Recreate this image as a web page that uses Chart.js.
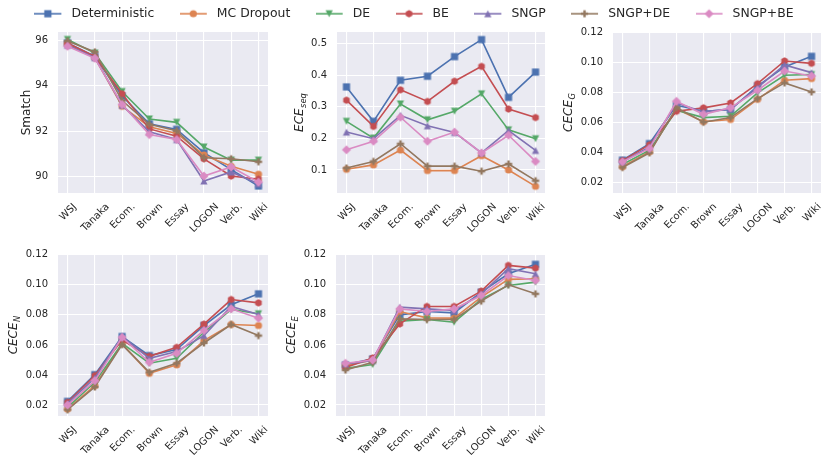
<!DOCTYPE html>
<html>
<head>
<meta charset="utf-8">
<script src="https://cdn.jsdelivr.net/npm/chart.js@4.4.1/dist/chart.umd.min.js"></script>
<style>
  html, body { margin: 0; padding: 0; background: #ffffff; }
  #wrap { position: relative; width: 825px; height: 459px; overflow: hidden; }
  #wrap canvas { position: absolute; }
</style>
</head>
<body>
<div id="wrap">
  <canvas id="legend" width="900" height="140" style="left:-36px;top:-18px"></canvas>
  <canvas id="pSmatch" width="275" height="215" style="left:0px;top:25px"></canvas>
  <canvas id="pEce" width="275" height="215" style="left:280px;top:25px"></canvas>
  <canvas id="pCeceG" width="270" height="215" style="left:555px;top:25px"></canvas>
  <canvas id="pCeceN" width="275" height="219" style="left:0px;top:240px"></canvas>
  <canvas id="pCeceE" width="275" height="219" style="left:280px;top:240px"></canvas>
</div>
<script>
// ---- data -------------------------------------------------------------
const categories = ['WSJ', 'Tanaka', 'Ecom.', 'Brown', 'Essay', 'LOGON', 'Verb.', 'Wiki'];
const methods = ['Deterministic', 'MC Dropout', 'DE', 'BE', 'SNGP', 'SNGP+DE', 'SNGP+BE'];

// one row per method (same order as `methods`), one value per category
const smatchValues = [
  [95.90, 95.30, 93.55, 92.33, 92.08, 91.05, 90.30, 89.58],
  [95.85, 95.25, 93.10, 92.20, 91.90, 90.95, 90.45, 90.10],
  [96.05, 95.45, 93.75, 92.54, 92.39, 91.30, 90.72, 90.72],
  [95.88, 95.30, 93.65, 92.10, 91.78, 90.78, 90.02, 89.88],
  [95.80, 95.25, 93.15, 91.97, 91.63, 89.80, 90.20, 89.68],
  [95.98, 95.50, 93.35, 92.30, 92.02, 90.83, 90.78, 90.65],
  [95.75, 95.22, 93.18, 91.85, 91.63, 90.02, 90.42, 89.75]
];
const eceSeqValues = [
  [0.363, 0.254, 0.384, 0.397, 0.459, 0.513, 0.330, 0.410],
  [0.102, 0.116, 0.163, 0.098, 0.098, 0.145, 0.100, 0.048],
  [0.254, 0.201, 0.309, 0.259, 0.286, 0.341, 0.227, 0.199],
  [0.321, 0.238, 0.354, 0.317, 0.381, 0.428, 0.293, 0.266],
  [0.220, 0.199, 0.273, 0.240, 0.219, 0.154, 0.225, 0.162],
  [0.106, 0.127, 0.183, 0.112, 0.112, 0.096, 0.119, 0.066],
  [0.164, 0.191, 0.267, 0.191, 0.220, 0.154, 0.210, 0.127]
];
const ceceGValues = [
  [0.0347, 0.0458, 0.0714, 0.0674, 0.0684, 0.0842, 0.0971, 0.1042],
  [0.0303, 0.0403, 0.0690, 0.0605, 0.0619, 0.0754, 0.0882, 0.0893],
  [0.0318, 0.0414, 0.0681, 0.0632, 0.0641, 0.0797, 0.0915, 0.0920],
  [0.0343, 0.0450, 0.0674, 0.0697, 0.0730, 0.0859, 0.1011, 0.0995],
  [0.0336, 0.0435, 0.0730, 0.0670, 0.0690, 0.0832, 0.0984, 0.0933],
  [0.0298, 0.0396, 0.0699, 0.0601, 0.0632, 0.0759, 0.0864, 0.0804],
  [0.0336, 0.0425, 0.0741, 0.0654, 0.0697, 0.0815, 0.0944, 0.0910]
];
const ceceNValues = [
  [0.0224, 0.0402, 0.0656, 0.0529, 0.0569, 0.0729, 0.0867, 0.0940],
  [0.0173, 0.0329, 0.0607, 0.0411, 0.0467, 0.0629, 0.0736, 0.0729],
  [0.0184, 0.0351, 0.0611, 0.0478, 0.0511, 0.0684, 0.0836, 0.0807],
  [0.0218, 0.0396, 0.0633, 0.0524, 0.0584, 0.0738, 0.0902, 0.0880],
  [0.0211, 0.0380, 0.0656, 0.0511, 0.0556, 0.0662, 0.0856, 0.0802],
  [0.0169, 0.0320, 0.0602, 0.0418, 0.0478, 0.0613, 0.0736, 0.0662],
  [0.0200, 0.0362, 0.0651, 0.0484, 0.0544, 0.0696, 0.0840, 0.0778]
];
const ceceEValues = [
  [0.0467, 0.0507, 0.0800, 0.0822, 0.0813, 0.0951, 0.1073, 0.1136],
  [0.0462, 0.0500, 0.0822, 0.0780, 0.0778, 0.0918, 0.1036, 0.1040],
  [0.0444, 0.0469, 0.0758, 0.0769, 0.0751, 0.0902, 0.0996, 0.1018],
  [0.0450, 0.0513, 0.0740, 0.0856, 0.0856, 0.0958, 0.1129, 0.1111],
  [0.0473, 0.0496, 0.0851, 0.0840, 0.0829, 0.0940, 0.1107, 0.1073],
  [0.0433, 0.0484, 0.0773, 0.0769, 0.0769, 0.0891, 0.1000, 0.0940],
  [0.0478, 0.0500, 0.0840, 0.0822, 0.0840, 0.0929, 0.1062, 0.1029]
];

// y tick values
const smatchTicks = [90, 92, 94, 96];
const eceSeqTicks = [0.1, 0.2, 0.3, 0.4, 0.5];
const ceceTicks = [0.02, 0.04, 0.06, 0.08, 0.10, 0.12];

// ---- styling ----------------------------------------------------------
const FONT = '"DejaVu Sans", sans-serif';
const TEXT_COLOR = '#262626';
const PANEL_BG = '#EAEAF2';
const COLORS = ['#4C72B0', '#DD8452', '#55A868', '#C44E52', '#8172B3', '#937860', '#DA8BC3'];
const MARKERS = ['square', 'circle', 'triangleDown', 'hexagon', 'triangleUp', 'plus', 'diamond'];
const MS = 7.2;        // marker size
const LINE_W = 1.6;    // line width

Chart.defaults.font.family = FONT;
Chart.defaults.color = TEXT_COLOR;

function drawMarker(ctx, kind, cx, cy, color) {
  const h = MS / 2;
  ctx.fillStyle = color;
  ctx.beginPath();
  switch (kind) {
    case 'square':
      ctx.rect(cx - h, cy - h, MS, MS);
      break;
    case 'circle':
      ctx.arc(cx, cy, h, 0, Math.PI * 2);
      break;
    case 'triangleDown':
      ctx.moveTo(cx - h, cy - h); ctx.lineTo(cx + h, cy - h); ctx.lineTo(cx, cy + h);
      break;
    case 'triangleUp':
      ctx.moveTo(cx - h, cy + h); ctx.lineTo(cx + h, cy + h); ctx.lineTo(cx, cy - h);
      break;
    case 'hexagon':
      for (let k = 0; k < 6; k++) {
        const a = -Math.PI / 2 + k * Math.PI / 3;
        const px = cx + h * 1.05 * Math.cos(a), py = cy + h * 1.05 * Math.sin(a);
        if (k === 0) ctx.moveTo(px, py); else ctx.lineTo(px, py);
      }
      break;
    case 'plus': {
      const s = MS / 6;
      const v = [[-1,-3],[1,-3],[1,-1],[3,-1],[3,1],[1,1],[1,3],[-1,3],[-1,1],[-3,1],[-3,-1],[-1,-1]];
      v.forEach((p, k) => { if (k === 0) ctx.moveTo(cx + p[0]*s, cy + p[1]*s); else ctx.lineTo(cx + p[0]*s, cy + p[1]*s); });
      break;
    }
    case 'diamond': {
      const d = h * Math.SQRT2 * 0.9;
      ctx.moveTo(cx, cy - d); ctx.lineTo(cx + d, cy); ctx.lineTo(cx, cy + d); ctx.lineTo(cx - d, cy);
      break;
    }
  }
  ctx.closePath();
  ctx.fill();
}

// point images for the plotted series
const pointImages = MARKERS.map((m, i) => {
  const c = document.createElement('canvas');
  c.width = 14; c.height = 14;
  drawMarker(c.getContext('2d'), m, 7, 7, COLORS[i]);
  return c;
});

// legend handles: short line with the marker in the middle
const HANDLE_LEN = 27;
const HANDLE_BOX = 30.8;
const legendImages = MARKERS.map((m, i) => {
  const c = document.createElement('canvas');
  c.width = 31; c.height = 14;
  const g = c.getContext('2d');
  g.strokeStyle = COLORS[i];
  g.lineWidth = LINE_W;
  g.beginPath(); g.moveTo(0, 7); g.lineTo(HANDLE_LEN, 7); g.stroke();
  drawMarker(g, m, HANDLE_LEN / 2, 7, COLORS[i]);
  return c;
});

// ---- plugins ----------------------------------------------------------
const panelBackground = {
  id: 'panelBackground',
  beforeDraw(chart) {
    const { ctx, chartArea: a } = chart;
    ctx.save();
    ctx.fillStyle = PANEL_BG;
    ctx.fillRect(a.left, a.top, a.right - a.left, a.bottom - a.top);
    ctx.restore();
  }
};

// rotated category labels, centred under each tick
const categoryLabels = {
  id: 'categoryLabels',
  afterDraw(chart) {
    const { ctx, chartArea } = chart;
    const xs = chart.scales.x;
    const size = 10;
    const asc = 0.928 * size, desc = 0.236 * size;
    ctx.save();
    ctx.font = size + 'px ' + FONT;
    ctx.fillStyle = TEXT_COLOR;
    ctx.textAlign = 'center';
    ctx.textBaseline = 'alphabetic';
    categories.forEach((lab, i) => {
      const px = xs.getPixelForValue(i);
      const w = ctx.measureText(lab).width;
      const ext = (w + asc + desc) * Math.SQRT1_2;
      ctx.save();
      ctx.translate(px, chartArea.bottom + 7.5 + ext / 2);
      ctx.rotate(-Math.PI / 4);
      ctx.fillText(lab, 0, (asc - desc) / 2);
      ctx.restore();
    });
    ctx.restore();
  }
};

// vertical axis title, with optional italic main text and subscript
const axisTitle = {
  id: 'axisTitle',
  afterDraw(chart, args, opts) {
    if (!opts || !opts.main) return;
    const { ctx, chartArea } = chart;
    const ys = chart.scales.y;
    ctx.save();
    ctx.font = '10px ' + FONT;
    let maxW = 0;
    ys.ticks.forEach(t => {
      maxW = Math.max(maxW, ctx.measureText(ys.options.ticks.callback(t.value)).width);
    });
    const tickLeft = chartArea.left - 10 - maxW;
    const mainFont = (opts.math ? 'italic ' : '') + '12px ' + FONT;
    const subFont = 'italic 8.4px ' + FONT;
    ctx.font = mainFont;
    const w1 = ctx.measureText(opts.main).width;
    let w2 = 0;
    if (opts.sub) { ctx.font = subFont; w2 = ctx.measureText(opts.sub).width + 0.5; }
    const total = w1 + w2;
    const shift = opts.sub ? 2.8 : 0;
    const bx = tickLeft - 5.5 - shift;
    const cy = (chartArea.top + chartArea.bottom) / 2;
    ctx.translate(bx, cy);
    ctx.rotate(-Math.PI / 2);
    ctx.fillStyle = TEXT_COLOR;
    ctx.textAlign = 'left';
    ctx.textBaseline = 'alphabetic';
    ctx.font = mainFont;
    ctx.fillText(opts.main, -total / 2, 0);
    if (opts.sub) {
      ctx.font = subFont;
      ctx.fillText(opts.sub, -total / 2 + w1 + 0.5, shift);
    }
    ctx.restore();
  }
};

// ---- panels -----------------------------------------------------------
function makePanel(cfg) {
  const datasets = cfg.values.map((row, i) => ({
    label: methods[i],
    data: row.map((v, k) => ({ x: k, y: v })),
    borderColor: COLORS[i],
    backgroundColor: COLORS[i],
    borderWidth: LINE_W,
    pointStyle: pointImages[i],
    pointRadius: 4,
    pointBorderWidth: 0,
    tension: 0,
    fill: false,
    order: methods.length - i
  }));
  new Chart(document.getElementById(cfg.id), {
    type: 'line',
    data: { datasets },
    options: {
      responsive: false,
      maintainAspectRatio: false,
      animation: false,
      devicePixelRatio: 1,
      events: [],
      layout: { padding: { left: 0, top: cfg.padTop, right: cfg.padRight, bottom: 0 } },
      plugins: {
        legend: { display: false },
        tooltip: { enabled: false },
        axisTitle: cfg.label
      },
      scales: {
        x: {
          type: 'linear',
          min: -0.35,
          max: categories.length - 1 + 0.35,
          afterBuildTicks(s) { s.ticks = categories.map((c, k) => ({ value: k })); },
          afterFit(s) { s.height = cfg.xHeight; s.paddingLeft = 0; s.paddingRight = 0; },
          ticks: { display: false },
          grid: { color: '#ffffff', lineWidth: 1.1, drawTicks: false },
          border: { display: false }
        },
        y: {
          type: 'linear',
          min: cfg.min,
          max: cfg.max,
          afterBuildTicks(s) { s.ticks = cfg.ticks.map(v => ({ value: v })); },
          afterFit(s) { s.width = cfg.yWidth; s.paddingTop = 0; s.paddingBottom = 0; },
          ticks: {
            padding: 10,
            color: TEXT_COLOR,
            font: { size: 10, family: FONT },
            callback: v => Number(v).toFixed(cfg.dec)
          },
          grid: { color: '#ffffff', lineWidth: 1.1, drawTicks: false },
          border: { display: false }
        }
      }
    },
    plugins: [panelBackground, categoryLabels, axisTitle]
  });
}

makePanel({ id: 'pSmatch', values: smatchValues, label: { main: 'Smatch' },
  min: 89.27, max: 96.38, ticks: smatchTicks, dec: 0, yWidth: 58, padTop: 7, padRight: 7, xHeight: 47 });
makePanel({ id: 'pEce', values: eceSeqValues, label: { main: 'ECE', sub: 'seq', math: true },
  min: 0.027, max: 0.537, ticks: eceSeqTicks, dec: 1, yWidth: 57, padTop: 7, padRight: 10, xHeight: 47 });
makePanel({ id: 'pCeceG', values: ceceGValues, label: { main: 'CECE', sub: 'G', math: true },
  min: 0.0127, max: 0.1205, ticks: ceceTicks, dec: 2, yWidth: 58, padTop: 7, padRight: 2, xHeight: 47 });
makePanel({ id: 'pCeceN', values: ceceNValues, label: { main: 'CECE', sub: 'N', math: true },
  min: 0.0127, max: 0.1205, ticks: ceceTicks, dec: 2, yWidth: 58, padTop: 14, padRight: 7, xHeight: 43 });
makePanel({ id: 'pCeceE', values: ceceEValues, label: { main: 'CECE', sub: 'E', math: true },
  min: 0.0127, max: 0.1205, ticks: ceceTicks, dec: 2, yWidth: 56, padTop: 14, padRight: 10, xHeight: 43 });

// ---- shared legend ----------------------------------------------------
new Chart(document.getElementById('legend'), {
  type: 'line',
  data: { datasets: methods.map((m, i) => ({ label: m, data: [], borderColor: COLORS[i] })) },
  options: {
    responsive: false,
    maintainAspectRatio: false,
    animation: false,
    devicePixelRatio: 1,
    events: [],
    scales: { x: { display: false }, y: { display: false } },
    plugins: {
      tooltip: { enabled: false },
      legend: {
        display: true,
        position: 'top',
        align: 'center',
        labels: {
          usePointStyle: true,
          pointStyleWidth: HANDLE_BOX,
          padding: 25.5,
          color: TEXT_COLOR,
          font: { size: 12.4, family: FONT },
          generateLabels: () => methods.map((m, i) => ({
            text: m,
            pointStyle: legendImages[i],
            fillStyle: COLORS[i],
            strokeStyle: COLORS[i],
            lineWidth: 0,
            fontColor: TEXT_COLOR,
            hidden: false,
            datasetIndex: i
          }))
        }
      }
    }
  }
});
</script>
</body>
</html>
